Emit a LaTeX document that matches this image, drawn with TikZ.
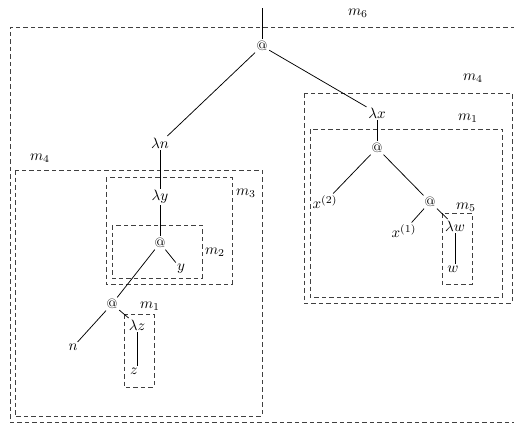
\documentclass[tikz,border=0pt]{standalone}
\begin{document}
\begin{tikzpicture}[x=0.6667pt,y=-0.6667pt,
  lbl/.style={inner sep=1pt},
  atn/.style={inner sep=1pt,font=\small},
  edge/.style={line width=0.5pt},
  box/.style={draw=black!75,line width=0.5pt,dash pattern=on 3pt off 2pt}]
\useasboundingbox (0,0) rectangle (514,424);
\clip (0,0) rectangle (514,424);
% boxes
\draw[box] (530,27) -- (10,27) -- (10,422) -- (530,422);
\draw[box] (15,170) rectangle (262,416);
\draw[box] (106,177) rectangle (232,284);
\draw[box] (112,225) rectangle (202,278);
\draw[box] (124,314) rectangle (154,387);
\draw[box] (304,93) rectangle (512,303);
\draw[box] (310,129) rectangle (502,297);
\draw[box] (442,213) rectangle (472,284);
% box labels
\node (lm6) at (358,13) {$m_6$};
\node (lm4a) at (40,158) {$m_4$};
\node (lm3) at (246,193) {$m_3$};
\node (lm2) at (215,252) {$m_2$};
\node (lm1a) at (150,306) {$m_1$};
\node (lm4b) at (473,78) {$m_4$};
\node (lm1b) at (468,118) {$m_1$};
\node (lm5) at (466,207) {$m_5$};
% tree nodes
\coordinate (top) at (262,8);
\node[atn] (at1) at (262,46) {@};
\node[lbl] (ln) at (160,143) {$\lambda n$};
\node[lbl] (ly) at (160,197) {$\lambda y$};
\node[atn] (at2) at (160,243) {@};
\node[lbl] (y) at (181,269) {$y$};
\node[atn] (at3) at (112,304) {@};
\node[lbl] (n) at (73,347) {$n$};
\node[lbl] (lz) at (137,325) {$\lambda z$};
\node[lbl] (z) at (134,371) {$z$};
\node[lbl] (lx) at (377,113) {$\lambda x$};
\node[atn] (at4) at (377,148) {@};
\node[lbl] (x2) at (325,202) {$x^{(2)}$};
\node[atn] (at5) at (430,202) {@};
\node[lbl] (x1) at (404,231) {$x^{(1)}$};
\node[lbl] (lw) at (455,226) {$\lambda w$};
\node[lbl] (w) at (453,269) {$w$};
% edges
\draw[edge] (top) -- (at1);
\draw[edge] (at1) -- (ln);
\draw[edge] (at1) -- (lx);
\draw[edge] (ln) -- (ly);
\draw[edge] (ly) -- (at2);
\draw[edge] (at2) -- (y);
\draw[edge] (at2) -- (at3);
\draw[edge] (at3) -- (n);
\draw[edge] (at3) -- (lz);
\draw[edge] (lz.south) -- (lz.south |- z.north);
\draw[edge] (lx) -- (at4);
\draw[edge] (at4) -- (x2);
\draw[edge] (at4) -- (at5);
\draw[edge] (at5) -- (x1);
\draw[edge] (at5) -- (lw);
\draw[edge] (lw.south) -- (lw.south |- w.north);
\end{tikzpicture}
\end{document}
